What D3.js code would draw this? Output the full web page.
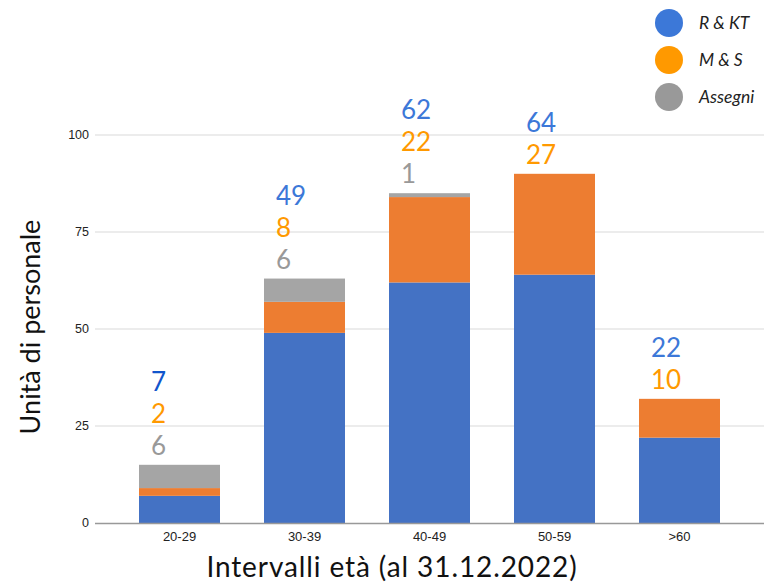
<!DOCTYPE html>
<html>
<head>
<meta charset="utf-8">
<script src="https://cdn.jsdelivr.net/npm/d3@7"></script>
<style>
  body { margin: 0; background: #fff; }
  svg { display: block; }
</style>
</head>
<body>
<svg id="chart" width="764" height="585"></svg>
<script>
// data
const ageGroups = ['20-29', '30-39', '40-49', '50-59', '>60'];
const seriesNames = ['R & KT', 'M & S', 'Assegni'];
const rkt = [7, 49, 62, 64, 22];
const ms = [2, 8, 22, 26, 10];        // bar heights as drawn
const assegni = [6, 6, 1, 0, 0];
// numbers written above the bars (the 50-59 box says 27)
const rktLabels = [7, 49, 62, 64, 22];
const msLabels = [2, 8, 22, 27, 10];
const assegniLabels = [6, 6, 1, 0, 0];
const yTicks = [0, 25, 50, 75, 100];

const barColors = ['#4472c4', '#ed7d31', '#a5a5a5'];
const labelColors = ['#3c78d8', '#ff9900', '#999999'];

const svg = d3.select('#chart');

const x = d3.scaleBand()
  .domain(ageGroups)
  .range([117, 742])
  .paddingInner(0.352)
  .paddingOuter(0.176);

const y = d3.scaleLinear()
  .domain([0, 100])
  .range([523, 135]);

// rows for the stack
const rows = ageGroups.map(function(g, i) {
  return { group: g, 'R & KT': rkt[i], 'M & S': ms[i], 'Assegni': assegni[i] };
});
const stacked = d3.stack().keys(seriesNames)(rows);

// grid
svg.append('g')
  .selectAll('line')
  .data(yTicks.slice(1))
  .enter()
  .append('line')
  .attr('x1', 95)
  .attr('x2', 764)
  .attr('y1', function(d) { return y(d); })
  .attr('y2', function(d) { return y(d); })
  .attr('stroke', '#d9d9d9')
  .attr('stroke-width', 1);

// y tick labels
svg.append('g')
  .selectAll('text')
  .data(yTicks)
  .enter()
  .append('text')
  .attr('x', 89)
  .attr('y', function(d) { return y(d) + 4; })
  .attr('text-anchor', 'end')
  .attr('font-family', 'Liberation Sans, Arial, sans-serif')
  .attr('font-size', 12.5)
  .attr('fill', '#222')
  .text(function(d) { return d; });

// bars
svg.append('g')
  .selectAll('g')
  .data(stacked)
  .enter()
  .append('g')
  .attr('fill', function(d, i) { return barColors[i]; })
  .selectAll('rect')
  .data(function(d) { return d; })
  .enter()
  .append('rect')
  .attr('x', function(d) { return x(d.data.group); })
  .attr('width', x.bandwidth())
  .attr('y', function(d) { return y(d[1]); })
  .attr('height', function(d) { return y(d[0]) - y(d[1]); });

// baseline
svg.append('line')
  .attr('x1', 95)
  .attr('x2', 764)
  .attr('y1', y(0) + 0.5)
  .attr('y2', y(0) + 0.5)
  .attr('stroke', '#999')
  .attr('stroke-width', 1.5);

// x tick labels
svg.append('g')
  .selectAll('text')
  .data(ageGroups)
  .enter()
  .append('text')
  .attr('x', function(d) { return x(d) + x.bandwidth() / 2; })
  .attr('y', 541)
  .attr('text-anchor', 'middle')
  .attr('font-family', 'Liberation Sans, Arial, sans-serif')
  .attr('font-size', 13)
  .attr('fill', '#222')
  .text(function(d) { return d; });

// value labels stacked above each bar, only non-zero series
const labels = [rktLabels, msLabels, assegniLabels];
ageGroups.forEach(function(g, i) {
  const top = rkt[i] + ms[i] + assegni[i];
  const shown = [];
  labels.forEach(function(arr, s) {
    if (arr[i] > 0) shown.push({ v: arr[i], s: s });
  });
  const n = shown.length;
  shown.forEach(function(item, k) {
    svg.append('text')
      .attr('x', x(g) + 12)
      .attr('y', y(top) - 10 - (n - 1 - k) * 32)
      .attr('font-family', 'Lato, sans-serif')
      .attr('font-size', 26)
      .attr('fill', (i === 0 && item.s === 0) ? '#1155cc' : labelColors[item.s])
      .text(item.v);
  });
});

// legend
const legend = svg.append('g')
  .selectAll('g')
  .data(seriesNames)
  .enter()
  .append('g')
  .attr('transform', function(d, i) { return 'translate(669,' + (23 + i * 37) + ')'; });
legend.append('circle')
  .attr('r', 14)
  .attr('fill', function(d, i) { return labelColors[i]; });
legend.append('text')
  .attr('x', 30)
  .attr('y', 6)
  .attr('font-family', 'Lato, sans-serif')
  .attr('font-style', 'italic')
  .attr('font-size', 17.5)
  .attr('fill', '#222')
  .text(function(d) { return d; });

// axis titles
svg.append('text')
  .attr('transform', 'translate(40,327) rotate(-90)')
  .attr('text-anchor', 'middle')
  .attr('font-family', 'Lato, sans-serif')
  .attr('font-size', 27)
  .attr('fill', '#111')
  .text('Unità di personale');

svg.append('text')
  .attr('x', 392)
  .attr('y', 577)
  .attr('text-anchor', 'middle')
  .attr('font-family', 'Lato, sans-serif')
  .attr('font-size', 28)
  .attr('letter-spacing', 0.9)
  .attr('fill', '#111')
  .text('Intervalli età (al 31.12.2022)');
</script>
</body>
</html>
